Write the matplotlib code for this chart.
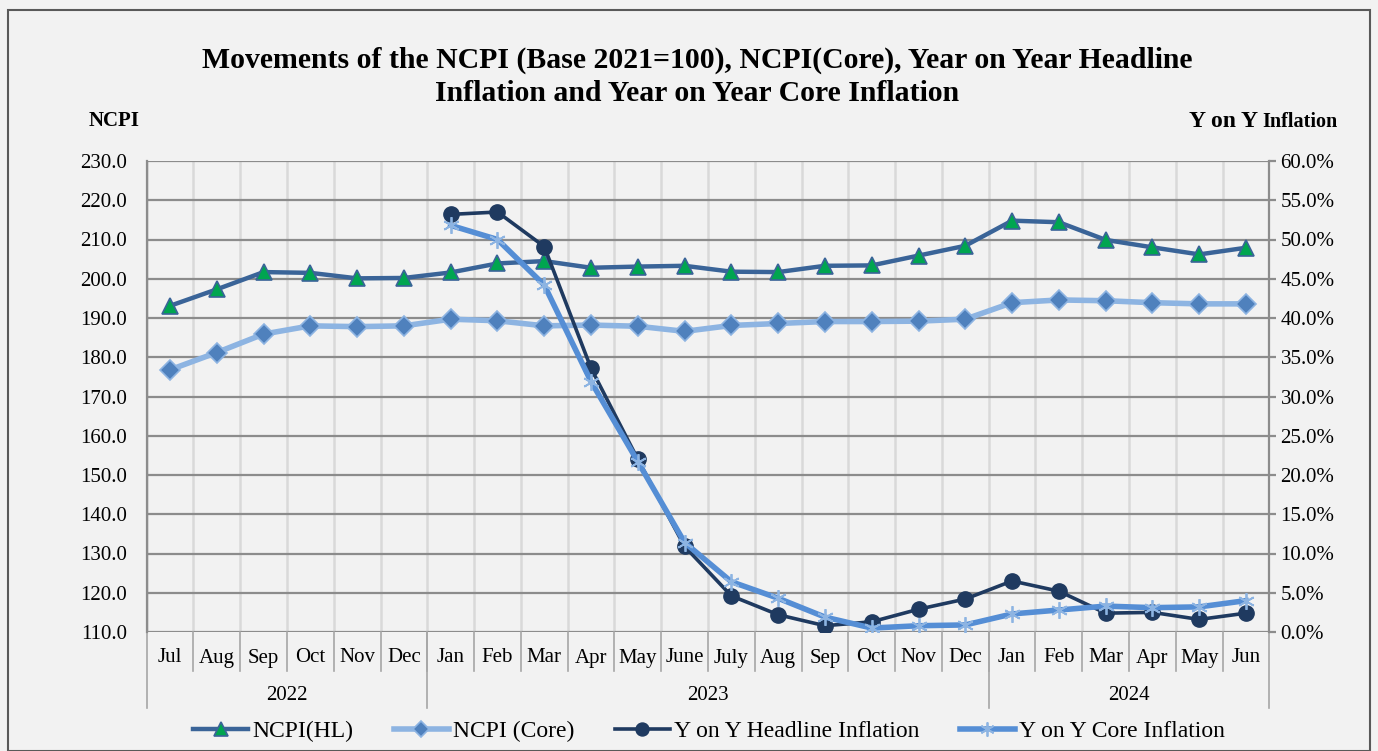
import numpy as np
import matplotlib
matplotlib.use("Agg")
import matplotlib.pyplot as plt
from matplotlib.ticker import FuncFormatter, MultipleLocator
from matplotlib.patches import Rectangle

plt.rcParams['font.family'] = ['Liberation Serif', 'DejaVu Serif']

months = ["Jul", "Aug", "Sep", "Oct", "Nov", "Dec",
          "Jan", "Feb", "Mar", "Apr", "May", "June", "July", "Aug", "Sep", "Oct", "Nov", "Dec",
          "Jan", "Feb", "Mar", "Apr", "May", "Jun"]
years = ["2022", "2023", "2024"]
year_counts = [6, 12, 6]

ncpi_hl = [193.1, 197.3, 201.7, 201.5, 200.1, 200.2, 201.6, 203.9, 204.5, 202.8, 203.1, 203.3,
           201.8, 201.7, 203.3, 203.4, 205.9, 208.4, 214.8, 214.4, 209.9, 208.0, 206.2, 207.9]
ncpi_core = [176.8, 181.2, 185.9, 188.0, 187.8, 188.0, 189.7, 189.3, 188.0, 188.2, 187.9, 186.6,
             188.1, 188.6, 189.1, 189.1, 189.2, 189.7, 193.9, 194.6, 194.4, 193.9, 193.6, 193.6]
yoy_headline = [np.nan] * 6 + [53.2, 53.5, 49.1, 33.6, 22.0, 10.9, 4.6, 2.2, 0.8, 1.3, 2.9, 4.2,
                               6.5, 5.2, 2.4, 2.5, 1.6, 2.4]
yoy_core = [np.nan] * 6 + [51.8, 50.0, 44.2, 31.9, 21.7, 11.4, 6.4, 4.3, 1.9, 0.5, 0.8, 0.9,
                           2.3, 2.8, 3.3, 3.1, 3.2, 4.0]

W, H = 1378, 751
fig = plt.figure(figsize=(W / 100, H / 100), dpi=100)
fig.patch.set_facecolor("#F2F2F2")
fig.patches.append(Rectangle((8 / W, 0.0), 1362 / W, 1 - 10 / H, transform=fig.transFigure,
                             fill=False, edgecolor="#595959", lw=1.5))

left, right, top, bottom = 146.6, 1269.4, 161, 632
ax = fig.add_axes([left / W, 1 - bottom / H, (right - left) / W, (bottom - top) / H])
ax.set_facecolor("#F2F2F2")
x = np.arange(len(months))

ax.set_xlim(-0.5, len(months) - 0.5)
ax.set_ylim(110, 230)
ax.yaxis.set_major_locator(MultipleLocator(10))
ax.yaxis.set_major_formatter(FuncFormatter(lambda v, p: f"{v:.1f}"))
ax.tick_params(axis='y', length=0, pad=14, labelsize=15)
ax.set_xticks([])
for yv in np.arange(110, 231, 10):
    ax.axhline(yv, color="#8C8C8C", lw=1.6, zorder=1)
for i in range(len(months) + 1):
    ax.axvline(i - 0.5, color="#D9D9D9", lw=1.8, zorder=0.5)
for s in ["top", "right", "bottom"]:
    ax.spines[s].set_visible(False)
ax.spines["left"].set_color("#8C8C8C")
ax.spines["left"].set_linewidth(1.6)

l1, = ax.plot(x, ncpi_hl, color="#3A6498", lw=3.2, marker="^", markersize=12,
              markerfacecolor="#00A550", markeredgecolor="#3A6498", markeredgewidth=1.2,
              zorder=4, label="NCPI(HL)")
l2, = ax.plot(x, ncpi_core, color="#8DB4E2", lw=4, marker="D", markersize=10,
              markerfacecolor="#4F81BD", markeredgecolor="#8DB4E2", markeredgewidth=1.2,
              zorder=3, label="NCPI (Core)")

ax2 = ax.twinx()
ax2.set_ylim(0, 60)
ax2.yaxis.set_major_locator(MultipleLocator(5))
ax2.yaxis.set_major_formatter(FuncFormatter(lambda v, p: f"{v:.1f}%"))
ax2.tick_params(axis='y', length=5, width=1.6, color="#8C8C8C", pad=3, labelsize=15)
for s in ["top", "left", "bottom"]:
    ax2.spines[s].set_visible(False)
ax2.spines["right"].set_color("#8C8C8C")
ax2.spines["right"].set_linewidth(1.6)

l3, = ax2.plot(x, yoy_headline, color="#1F3A60", lw=2.6, marker="o", markersize=11,
               markerfacecolor="#1F3A60", markeredgecolor="#1F3A60", zorder=3,
               label="Y on Y Headline Inflation")
l4, = ax2.plot(x, yoy_core, color="#558ED5", lw=4, marker=(6, 2, 0), markersize=12,
               markeredgecolor="#8DB4E2", markeredgewidth=1.3, zorder=4,
               label="Y on Y Core Inflation")

# two-level category axis
ah = bottom - top
trans = ax.get_xaxis_transform()
for i, m in enumerate(months):
    ax.text(i, -26 / ah, m, transform=trans, ha="center", va="center", fontsize=15)
for i in range(1, len(months)):
    ax.plot([i - 0.5, i - 0.5], [0, -39 / ah], transform=trans, color="#A6A6A6", lw=1.2,
            clip_on=False)
start = 0
bounds = [0]
for yr, n in zip(years, year_counts):
    ax.text(start + (n - 1) / 2, -63 / ah, yr, transform=trans, ha="center", va="center",
            fontsize=15)
    start += n
    bounds.append(start)
for b in bounds:
    ax.plot([b - 0.5, b - 0.5], [0, -76 / ah], transform=trans, color="#A6A6A6", lw=1.2,
            clip_on=False)

fig.text(697.5 / W, 1 - 77 / H,
         "Movements of the NCPI (Base 2021=100), NCPI(Core), Year on Year Headline\n"
         "Inflation and Year on Year Core Inflation",
         ha="center", va="center", fontsize=21.4, fontweight="bold", linespacing=1.27)
fig.text(114 / W, 1 - 121 / H, "NCPI", ha="center", va="center", fontsize=15,
         fontweight="bold")
t_inf = fig.text(1338 / W, 1 - 121 / H, "Inflation", ha="right", va="baseline", fontsize=14.5,
                 fontweight="bold")
t_inf.set_y(1 - 127 / H)
fig.canvas.draw()
bb = t_inf.get_window_extent(renderer=fig.canvas.get_renderer())
fig.text((bb.x0 - 5) / W, 1 - 127 / H, "Y on Y", ha="right", va="baseline", fontsize=17,
         fontweight="bold")

fig.legend(handles=[l1, l2, l3, l4], loc="center", bbox_to_anchor=(709 / W, 1 - 731 / H),
           ncol=4, frameon=False, fontsize=17, numpoints=1, handlelength=2.35,
           handletextpad=0.17, columnspacing=1.7, markerscale=0.85)

fig.savefig("out.png", dpi=100, facecolor=fig.get_facecolor())
